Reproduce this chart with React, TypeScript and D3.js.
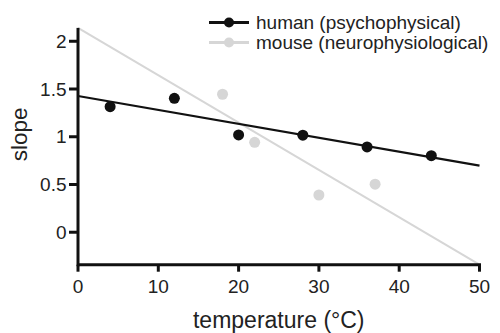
import React from "react";
import * as d3 from "d3";

// measured values
const humanTemp = [4, 12, 20, 28, 36, 44];
const humanSlope = [1.315, 1.403, 1.019, 1.016, 0.893, 0.802];
const mouseTemp = [18, 22, 30, 37];
const mouseSlope = [1.445, 0.942, 0.39, 0.503];

// fitted lines (end points at 0 and 50 °C)
const fitTemp = [0, 50];
const humanFit = [1.427, 0.697];
const mouseFit = [2.14, -0.34];

const xTicks = [0, 10, 20, 30, 40, 50];
const yTicks = [0, 0.5, 1, 1.5, 2];
const yTickLabels = ["0", "0.5", "1", "1.5", "2"];

const legendLabels = ["human (psychophysical)", "mouse (neurophysiological)"];

const BLACK = "#111111";
const GREY = "#d6d6d6";
const FONT = "'Liberation Sans', Arial, Helvetica, sans-serif";

const App: React.FC = () => {
  const width = 500;
  const height = 333;

  const x = d3.scaleLinear().domain([0, 50]).range([78, 479.5]);
  const y = d3.scaleLinear().domain([-0.34, 2.14]).range([264.7, 27.9]);

  const line = d3
    .line<[number, number]>()
    .x((d) => x(d[0]))
    .y((d) => y(d[1]));

  const humanFitPts = fitTemp.map((t, i) => [t, humanFit[i]] as [number, number]);
  const mouseFitPts = fitTemp.map((t, i) => [t, mouseFit[i]] as [number, number]);

  const [x0, x1] = x.range();
  const [yBottom, yTop] = y.range();

  return (
    <svg
      width={width}
      height={height}
      style={{ position: "absolute", left: 0, top: 0, background: "#fff" }}
      fontFamily={FONT}
    >
      {/* fit lines */}
      <path d={line(mouseFitPts) || ""} fill="none" stroke={GREY} strokeWidth={2} />
      <path d={line(humanFitPts) || ""} fill="none" stroke={BLACK} strokeWidth={2.2} />

      {/* points */}
      {mouseTemp.map((t, i) => (
        <circle key={"m" + i} cx={x(t)} cy={y(mouseSlope[i])} r={5.5} fill={GREY} />
      ))}
      {humanTemp.map((t, i) => (
        <circle key={"h" + i} cx={x(t)} cy={y(humanSlope[i])} r={5.5} fill={BLACK} />
      ))}

      {/* axes */}
      <line x1={x0} x2={x1 + 1.5} y1={yBottom} y2={yBottom} stroke={BLACK} strokeWidth={3} />
      <line x1={x0} x2={x0} y1={yTop} y2={yBottom + 1.5} stroke={BLACK} strokeWidth={3} />

      {xTicks.map((t) => (
        <g key={"xt" + t}>
          <line x1={x(t)} x2={x(t)} y1={yBottom} y2={yBottom + 7} stroke={BLACK} strokeWidth={3} />
          <text x={x(t)} y={yBottom + 28} textAnchor="middle" fontSize={19} fill="#222">
            {t}
          </text>
        </g>
      ))}
      {yTicks.map((t, i) => (
        <g key={"yt" + t}>
          <line x1={x0 - 9} x2={x0} y1={y(t)} y2={y(t)} stroke={BLACK} strokeWidth={3} />
          <text x={x0 - 11.5} y={y(t)} dy="0.35em" textAnchor="end" fontSize={19} fill="#222">
            {yTickLabels[i]}
          </text>
        </g>
      ))}

      {/* axis titles */}
      <text x={(x0 + x1) / 2} y={328} textAnchor="middle" fontSize={23} fill="#222">
        temperature (°C)
      </text>
      <text
        transform={`translate(27,${(yTop + yBottom) / 2 - 12}) rotate(-90)`}
        textAnchor="middle"
        fontSize={22.5}
        fill="#222"
      >
        slope
      </text>

      {/* legend */}
      {legendLabels.map((label, i) => {
        const ly = 22.5 + i * 20;
        const c = i === 0 ? BLACK : GREY;
        return (
          <g key={"lg" + i}>
            <line x1={209} x2={249} y1={ly} y2={ly} stroke={c} strokeWidth={3} />
            <circle cx={229} cy={ly} r={5} fill={c} />
            <text x={256} y={ly} dy="0.33em" fontSize={19} fill="#222">
              {label}
            </text>
          </g>
        );
      })}
    </svg>
  );
};

export default App;
